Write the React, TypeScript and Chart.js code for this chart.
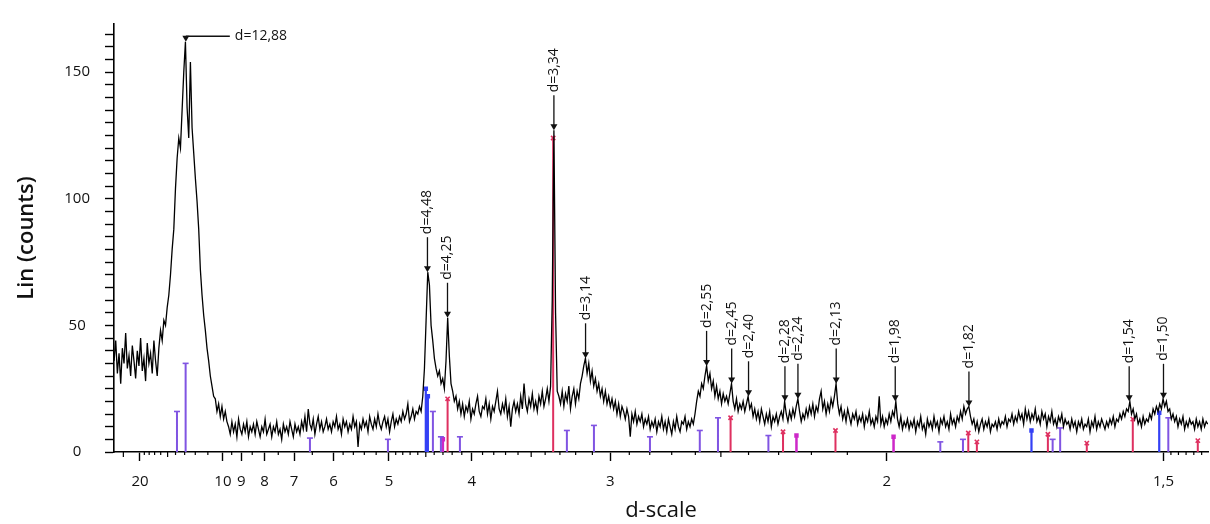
import React, { useEffect, useRef } from "react";
import { Chart, registerables } from "chart.js";

Chart.register(...registerables);

// ---- scan (measured on a regular grid of 1/d, in 1/Å) ----
const SCAN_START_INV_D = 0.0344;
const SCAN_STEP_INV_D = 0.001;
const counts = [
  // 0
  36, 44, 31, 39, 27, 41, 35, 47, 33, 38, 30, 42, 36, 29, 40, 34, 45, 32, 37, 28, 43, 35, 39, 31, 44, 36, 30, 41,
  // 28
  48, 44, 52, 50, 57, 62, 70, 80, 88, 104, 116, 124, 120, 135, 150, 162,
  // 44
  136, 124, 154, 128, 118, 108, 99, 88, 72, 62, 54, 48, 41, 36, 30, 26, 22,
  // 61
  21, 16, 19, 14, 18, 13, 16, 12,
  // 69
  10, 7, 12, 8, 11, 6, 13, 9, 7, 11, 8, 12, 6, 10,
  // 83
  8, 11, 7, 12, 9, 6, 10, 8, 13, 7, 9, 11, 6, 10, 8, 12, 7, 9, 5, 11, 8, 10, 7, 12, 9, 6, 11, 8, 10, 7,
  // 113
  12, 9, 14, 8, 17, 11, 9, 13, 7, 11, 14, 9, 12, 8, 10, 13, 9, 11,
  // 131
  8, 12, 10, 14, 9, 11, 7, 13, 10, 12, 8, 11, 9, 14, 10, 12, 2, 11,
  // 149
  9, 13, 10, 12, 8, 14, 11, 9, 13, 10, 15, 11, 9, 12, 14, 10, 13, 8, 12, 15, 10, 13, 11, 14,
  // 173
  12, 16, 13, 15, 19, 12, 14, 17, 13, 16, 15, 18, 16,
  // 186
  22, 33, 52, 71, 66, 50, 44, 37, 33, 30, 32, 27, 29, 25, 36, 53, 38, 27, 24, 20, 22, 17, 20,
  // 209
  15, 19, 14, 18, 16, 20, 13, 17, 15, 19, 22, 16, 14, 18, 17, 21, 15, 19, 13, 18,
  16, 20, 24, 17, 15, 19, 16, 21, 14, 18, 10, 17, 20, 16, 19, 15, 22, 17, 27, 19,
  16, 21, 18, 23, 17, 20, 16, 22, 19, 24, 18, 21, 25, 20,
  // 263
  26, 60, 127, 55, 24,
  // 268
  22, 19, 24, 18, 23, 20, 26, 17, 22, 25, 19, 24, 21, 27, 30,
  // 283
  34, 37, 31, 35, 28, 32, 26, 29, 24, 27, 22, 25, 20, 24, 19, 22, 18, 21,
  // 301
  17, 20, 15, 19, 14, 18, 16, 13, 17, 14, 6, 15, 12, 16, 11, 14, 12, 15, 10, 13, 11, 14, 9, 12, 10, 13, 8, 12, 10, 14,
  // 331
  9, 12, 8, 13, 10, 7, 12, 9, 14, 10, 8, 12, 11, 14, 9, 12, 10, 13, 11,
  // 350
  15, 20, 24, 22, 27, 25, 30, 34, 28, 31, 25, 28, 22, 26, 21, 24, 19, 23, 20, 22,
  // 370
  19, 23, 27, 20, 17, 21, 16, 19, 17, 20, 16, 19, 22, 17, 19, 14, 17, 13, 16, 12,
  // 390
  17, 14, 11, 15, 12, 16, 10, 14, 12, 15, 11, 14, 16, 13, 20, 15, 12, 16, 13, 17,
  // 410
  14, 18, 21, 16, 12, 15, 13, 17, 14, 18, 15, 19, 14, 18, 16, 21, 24, 17, 20, 15,
  // 430
  19, 16, 21, 18, 22, 27, 19, 15, 18, 13, 16, 12, 17, 14, 11, 15, 13, 16, 11, 14,
  // 450
  12, 15, 10, 14, 12, 16, 11, 13, 10, 14, 12, 22, 11, 14, 10, 13, 11, 15, 12, 16,
  // 470
  14, 20, 13, 10, 14, 9, 12, 10, 13, 9, 12,
  // 481
  10, 13, 8, 12, 10, 14, 9, 11, 7, 13, 10, 12, 9, 14, 10, 12, 8, 13, 11, 14,
  10, 12, 9, 15, 11, 13, 10, 14, 12, 16, 13, 18, 15, 17,
  // 515
  18, 14, 11, 13, 9, 12, 8, 11, 13, 9, 12, 10, 13, 8, 11, 10, 12, 9, 13, 10,
  // 535
  12, 11, 14, 10, 13, 12, 15, 11, 14, 12, 16, 13, 15, 11, 17, 13, 16, 12, 15, 13,
  // 555
  17, 12, 14, 11, 16, 13, 15, 10, 14, 12, 16, 11, 13, 10, 14, 12, 15, 10, 13, 11,
  // 575
  12, 9, 13, 10, 12, 8, 12, 10, 13, 9, 11, 10, 13, 8, 12, 10, 14, 9, 12, 10,
  // 595
  13, 11, 9, 12, 10, 13, 11, 14, 10, 13, 12, 15, 13, 16, 14, 17, 16, 20, 15, 17,
  // 615
  13, 15, 11, 13, 10, 14, 11, 13, 12, 15, 13, 17, 15, 18, 16, 19, 17, 21, 18, 20,
  // 635
  16, 17, 13, 15, 12, 14, 10, 13, 11, 14, 9, 12, 10, 13, 11, 12, 9, 13, 10, 12,
  // 655
  9, 13, 10, 12, 11,
];

// ---- axes ----
const axisDRange = [29.1, 1.442];
const yMax = 169;
const yStep = 5;
const yLabelEvery = 50;
const majorD = [20, 10, 9, 8, 7, 6, 5, 4, 3, 2, 1.5];
const majorLabels = ["20", "10", "9", "8", "7", "6", "5", "4", "3", "2", "1,5"];
const mediumTicksD = [25, 15, 4.5, 3.5, 2.5];
const smallTicksD = [
  19, 18, 17, 16, 14, 13, 12, 11, 9.5, 8.5, 7.5, 6.5, 5.8, 5.6, 5.4, 5.2,
  4.9, 4.8, 4.7, 4.6, 4.4, 4.3, 4.2, 4.1, 3.9, 3.8, 3.7, 3.6, 3.4, 3.3, 3.2, 3.1,
  2.9, 2.8, 2.7, 2.6, 2.4, 2.3, 2.2, 2.1, 1.49, 1.48, 1.47, 1.46, 1.45,
];

// ---- peak labels ----
const peakLabels = [
  "d=12,88", "d=4,48", "d=4,25", "d=3,34", "d=3,14", "d=2,55", "d=2,45", "d=2,40",
  "d=2,28", "d=2,24", "d=2,13", "d=1,98", "d=1,82", "d=1,54", "d=1,50",
];
const peakPosD = [12.88, 4.48, 4.25, 3.34, 3.14, 2.555, 2.46, 2.4, 2.28, 2.24, 2.13, 1.98, 1.82, 1.548, 1.5];
const peakCounts = [162, 71, 53, 127, 37, 34, 27, 22, 20, 21, 27, 20, 18, 20, 21];

// ---- reference phase sticks ----
const purpleD = [13.83, 12.9, 6.561, 5.015, 4.415, 4.323, 4.119, 3.255, 3.091, 2.799, 2.582, 2.511, 2.333, 1.879, 1.832, 1.667, 1.6545, 1.4935];
const purpleH = [16, 35, 5.5, 5, 16, 6, 6, 8.5, 10.5, 6, 8.5, 13.5, 6.5, 4, 5, 5, 9.5, 13.5];
const blueD = [4.5, 4.475, 1.7032, 1.5058];
const blueH = [25, 22, 8.5, 15.5];
const redD = [4.249, 3.345, 2.464, 2.286, 2.132, 1.8213, 1.8043, 1.675, 1.6117, 1.5428, 1.4549];
const redH = [21, 124, 13.5, 8, 8.5, 7.5, 4, 7, 3.5, 13, 4.5];
const magentaD = [4.301, 2.2445, 1.984];
const magentaH = [5, 6.5, 6];

const FONT = '"Open Sans", "DejaVu Sans", sans-serif';

function sticks(ds: number[], hs: number[]) {
  const out: { x: number; y: number | null }[] = [];
  ds.forEach((d, i) => {
    out.push({ x: 1 / d, y: 0 });
    out.push({ x: 1 / d, y: hs[i] });
    out.push({ x: 1 / d, y: null });
  });
  return out;
}

function stickDataset(ds: number[], hs: number[], color: string, style: string, width: number, r: number) {
  return {
    data: sticks(ds, hs),
    borderColor: color,
    backgroundColor: color,
    borderWidth: width,
    spanGaps: false,
    pointStyle: style,
    pointRadius: (c: any) => (c.dataIndex % 3 === 1 ? r : 0),
    pointBorderWidth: 1.6,
    pointBorderColor: color,
    pointBackgroundColor: color,
    order: 2,
  };
}

const overlayPlugin = {
  id: "overlay",
  afterDraw(chart: any) {
    const { ctx, chartArea } = chart;
    const x = chart.scales.x;
    const y = chart.scales.y;
    ctx.save();
    ctx.strokeStyle = "#000";
    ctx.lineWidth = 1.2;
    const base = chartArea.bottom;
    const tick = (d: number, len: number) => {
      const px = x.getPixelForValue(1 / d);
      ctx.beginPath();
      ctx.moveTo(px, base);
      ctx.lineTo(px, base + len);
      ctx.stroke();
    };
    smallTicksD.forEach((d) => tick(d, 3));
    mediumTicksD.forEach((d) => tick(d, 5));

    ctx.fillStyle = "#111";
    ctx.strokeStyle = "#111";
    ctx.lineWidth = 1.3;
    ctx.font = `14px ${FONT}`;
    const ARROW = 35;
    peakPosD.forEach((d, k) => {
      const px = x.getPixelForValue(1 / d);
      const tip = y.getPixelForValue(peakCounts[k]);
      ctx.beginPath();
      ctx.moveTo(px - 3.5, tip - 6);
      ctx.lineTo(px + 3.5, tip - 6);
      ctx.lineTo(px, tip);
      ctx.closePath();
      ctx.fill();
      if (k === 0) {
        const ly = tip - 5.5;
        ctx.beginPath();
        ctx.moveTo(px, ly);
        ctx.lineTo(px + 44, ly);
        ctx.stroke();
        ctx.textAlign = "left";
        ctx.textBaseline = "middle";
        ctx.fillText(peakLabels[k], px + 49, ly);
      } else {
        ctx.beginPath();
        ctx.moveTo(px, tip - ARROW);
        ctx.lineTo(px, tip - 5);
        ctx.stroke();
        ctx.save();
        ctx.translate(px, tip - ARROW - 3);
        ctx.rotate(-Math.PI / 2);
        ctx.textAlign = "left";
        ctx.textBaseline = "middle";
        ctx.fillText(peakLabels[k], 0, 0);
        ctx.restore();
      }
    });
    ctx.restore();
  },
};

export default function App() {
  const ref = useRef<HTMLCanvasElement | null>(null);
  useEffect(() => {
    if (!ref.current) return;
    const trace = counts.map((c, i) => ({ x: SCAN_START_INV_D + i * SCAN_STEP_INV_D, y: c }));
    const chart = new Chart(ref.current, {
      type: "line",
      data: {
        datasets: [
          {
            data: trace,
            borderColor: "#000",
            borderWidth: 1.3,
            pointRadius: 0,
            tension: 0,
            order: 0,
          } as any,
          stickDataset(purpleD, purpleH, "rgb(128,84,226)", "line", 2, 3) as any,
          stickDataset(blueD, blueH, "rgb(52,64,245)", "rect", 2.2, 2) as any,
          stickDataset(redD, redH, "rgb(222,48,96)", "crossRot", 2, 3) as any,
          stickDataset(magentaD, magentaH, "rgb(205,40,200)", "rect", 2.5, 2) as any,
        ],
      },
      options: {
        animation: false,
        responsive: true,
        maintainAspectRatio: false,
        layout: { padding: { top: 11, right: 2, left: 0, bottom: 0 } },
        plugins: { legend: { display: false }, tooltip: { enabled: false } },
        scales: {
          x: {
            type: "linear",
            min: 1 / axisDRange[0],
            max: 1 / axisDRange[1],
            afterBuildTicks: (s: any) => {
              s.ticks = majorD.map((d) => ({ value: 1 / d }));
            },
            afterFit: (s: any) => {
              s.height = 72;
            },
            ticks: {
              autoSkip: false,
              maxRotation: 0,
              padding: 12,
              color: "#111",
              font: { family: FONT, size: 15 },
              callback: (_v: any, i: number) => majorLabels[i],
            },
            grid: { drawOnChartArea: false, drawTicks: true, tickLength: 9, tickColor: "#000", tickWidth: 1.4 },
            border: { display: true, color: "#000", width: 1.6 },
            title: {
              display: true,
              text: "d-scale",
              color: "#111",
              font: { family: FONT, size: 22 },
              padding: { top: 0, bottom: 0 },
            },
          },
          y: {
            type: "linear",
            min: 0,
            max: yMax,
            afterFit: (s: any) => {
              s.width = 114;
            },
            ticks: {
              stepSize: yStep,
              includeBounds: false,
              autoSkip: false,
              crossAlign: "center",
              padding: 15,
              color: "#111",
              font: { family: FONT, size: 15 },
              callback: (v: any) => (Number(v) % yLabelEvery === 0 ? String(v) : ""),
            },
            grid: { drawOnChartArea: false, drawTicks: true, tickLength: 9, tickColor: "#000", tickWidth: 1.4 },
            border: { display: true, color: "#000", width: 1.6 },
            title: {
              display: true,
              text: "Lin (counts)",
              color: "#111",
              font: { family: FONT, size: 22, weight: "600" },
              padding: { top: 14, bottom: 0 },
            },
          },
        },
      },
      plugins: [overlayPlugin],
    });
    return () => chart.destroy();
  }, []);
  return (
    <div style={{ position: "fixed", left: 0, top: 0, width: 1210, height: 524, background: "#fff" }}>
      <canvas ref={ref} />
    </div>
  );
}
